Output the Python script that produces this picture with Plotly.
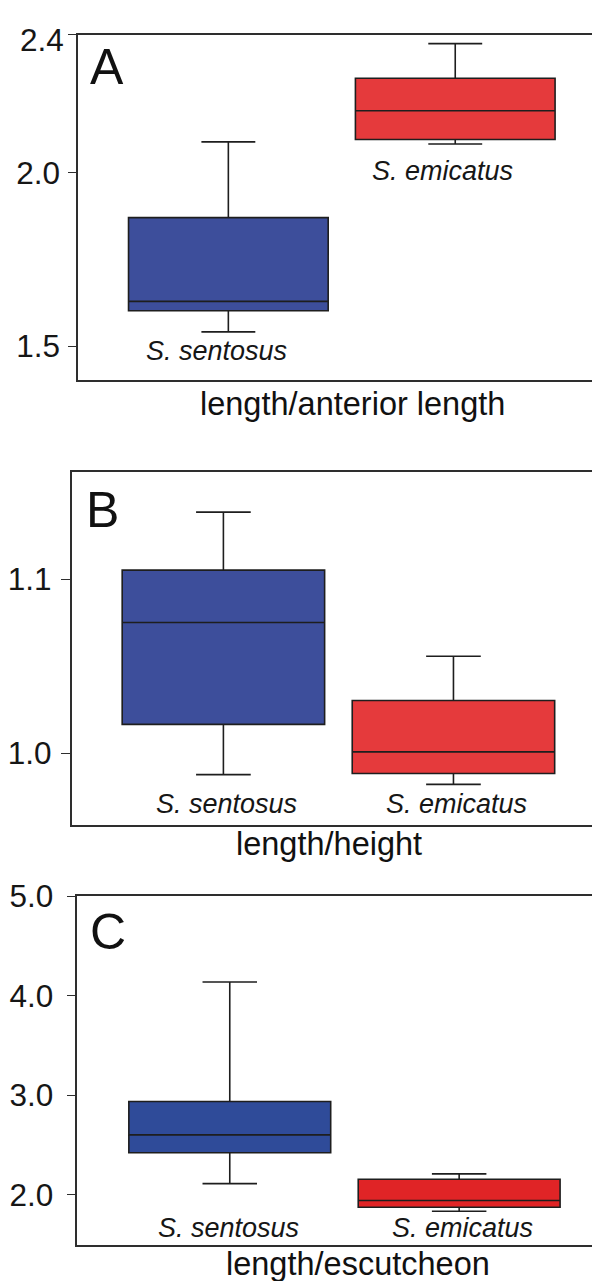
import plotly.graph_objects as go

# The page body has an 8px default margin, so the figure is sized to fill the
# window exactly after that offset.
OFF = 8
W, H = 600 - OFF, 1281 - OFF

species = ["S. sentosus", "S. emicatus"]

# Panel A: length/anterior length
a_lower = [1.541, 2.084]
a_q1 = [1.602, 2.097]
a_median = [1.629, 2.180]
a_q3 = [1.871, 2.274]
a_upper = [2.090, 2.374]
a_ticks = [1.5, 2.0, 2.4]

# Panel B: length/height
b_lower = [0.9877, 0.9821]
b_q1 = [1.0166, 0.9883]
b_median = [1.0752, 1.0008]
b_q3 = [1.1053, 1.0303]
b_upper = [1.1387, 1.0558]
b_ticks = [1.0, 1.1]

# Panel C: length/escutcheon
c_lower = [2.11, 1.833]
c_q1 = [2.42, 1.873]
c_median = [2.60, 1.94]
c_q3 = [2.936, 2.155]
c_upper = [4.138, 2.208]
c_ticks = [2.0, 3.0, 4.0, 5.0]

panel_letters = ["A", "B", "C"]
axis_titles = ["length/anterior length", "length/height", "length/escutcheon"]

colors_ab = ["#3d4e9b", "#e53a3c"]
colors_c = ["#2f4b99", "#e02426"]

FONT = "Liberation Sans, Arial, sans-serif"
LINE = "#1e1e1e"
FRAME = "#2e2e2e"
TXT = "#161616"


def px(x):
    return (x - OFF) / W


def py(y):
    return 1 - (y - OFF) / H


fig = go.Figure()

panels = [
    dict(lo=a_lower, q1=a_q1, med=a_median, q3=a_q3, hi=a_upper, cols=colors_ab, ax="x", ay="y"),
    dict(lo=b_lower, q1=b_q1, med=b_median, q3=b_q3, hi=b_upper, cols=colors_ab, ax="x2", ay="y2"),
    dict(lo=c_lower, q1=c_q1, med=c_median, q3=c_q3, hi=c_upper, cols=colors_c, ax="x3", ay="y3"),
]

for p in panels:
    for i, sp in enumerate(species):
        fig.add_trace(go.Box(
            x=[sp], q1=[p["q1"][i]], median=[p["med"][i]], q3=[p["q3"][i]],
            lowerfence=[p["lo"][i]], upperfence=[p["hi"][i]],
            fillcolor=p["cols"][i], line=dict(color=LINE, width=1.6),
            whiskerwidth=0.27, width=0.88, boxpoints=False,
            xaxis=p["ax"], yaxis=p["ay"], showlegend=False, hoverinfo="skip",
        ))

# frame pixel geometry in reference-window pixels (top, bottom, left) and ranges
geo = [
    dict(top=16.7, bottom=367.0, left=74.6, xr=[-0.662, 1.638], yr=[1.402, 2.4],
         ticks=a_ticks, tl=8, so=2),
    dict(top=460.7, bottom=818.3, left=68.9, xr=[-0.656, 1.637], yr=[0.9588, 1.1616],
         ticks=b_ticks, tl=10, so=3),
    dict(top=890.7, bottom=1244.3, left=73.9, xr=[-0.664, 1.614], yr=[1.495, 5.0],
         ticks=c_ticks, tl=9, so=7),
]

layout = dict(
    width=W, height=H, margin=dict(l=0, r=0, t=0, b=0),
    paper_bgcolor="white", plot_bgcolor="white", boxmode="overlay",
    font=dict(family=FONT, color=TXT),
)

for k, g in enumerate(geo):
    sx = "" if k == 0 else str(k + 1)
    ticktext = ["%.1f" % v for v in g["ticks"]]
    if k == 0:
        ticktext[-1] = ""  # top label drawn as annotation (shifted down, as in reference)
    layout["xaxis" + sx] = dict(
        domain=[px(g["left"]), 1.0], range=g["xr"], anchor="y" + sx,
        showticklabels=False, ticks="", showgrid=False, zeroline=False,
        showline=True, mirror=True, linecolor=FRAME, linewidth=1.5,
        type="category", categoryorder="array", categoryarray=species,
    )
    layout["yaxis" + sx] = dict(
        domain=[py(g["bottom"]), py(g["top"])], range=g["yr"], anchor="x" + sx,
        tickvals=g["ticks"], ticktext=ticktext, ticks="outside", ticklen=g["tl"],
        ticklabelstandoff=g["so"],
        tickcolor=FRAME, tickwidth=1.2, showgrid=False, zeroline=False,
        showline=True, linecolor=FRAME, linewidth=1.5,
        tickfont=dict(size=31.5, family=FONT, color=TXT),
    )

fig.update_layout(**layout)

ann = []
# top tick label of panel A
ann.append(dict(text="%.1f" % a_ticks[-1], x=px(62), y=py(22), xref="paper", yref="paper",
                xanchor="right", yanchor="middle", showarrow=False,
                font=dict(size=31.5, family=FONT, color=TXT)))
# panel letters
for letter, (x, y) in zip(panel_letters, [(104, 50), (99, 499), (104.5, 927)]):
    ann.append(dict(text=letter, x=px(x), y=py(y), xref="paper", yref="paper",
                    xanchor="center", yanchor="middle", showarrow=False,
                    font=dict(size=50, family=FONT, color="#111111")))
# axis titles
for t, (x, y) in zip(axis_titles, [(351, 391), (327, 838), (356, 1264)]):
    ann.append(dict(text=t, x=px(x), y=py(y), xref="paper", yref="paper",
                    xanchor="center", yanchor="middle", showarrow=False,
                    font=dict(size=32.5, family=FONT, color="#111111")))
# species labels
sp_pos = [
    (species[0], 214, 338), (species[1], 441, 155),
    (species[0], 224, 797), (species[1], 456, 797),
    (species[0], 226, 1227), (species[1], 462, 1227),
]
for t, x, y in sp_pos:
    ann.append(dict(text="<i>" + t + "</i>", x=px(x), y=py(y), xref="paper", yref="paper",
                    xanchor="center", yanchor="middle", showarrow=False,
                    font=dict(size=27, family=FONT, color=TXT)))

fig.update_layout(annotations=ann)
fig.write_html("out.html")
